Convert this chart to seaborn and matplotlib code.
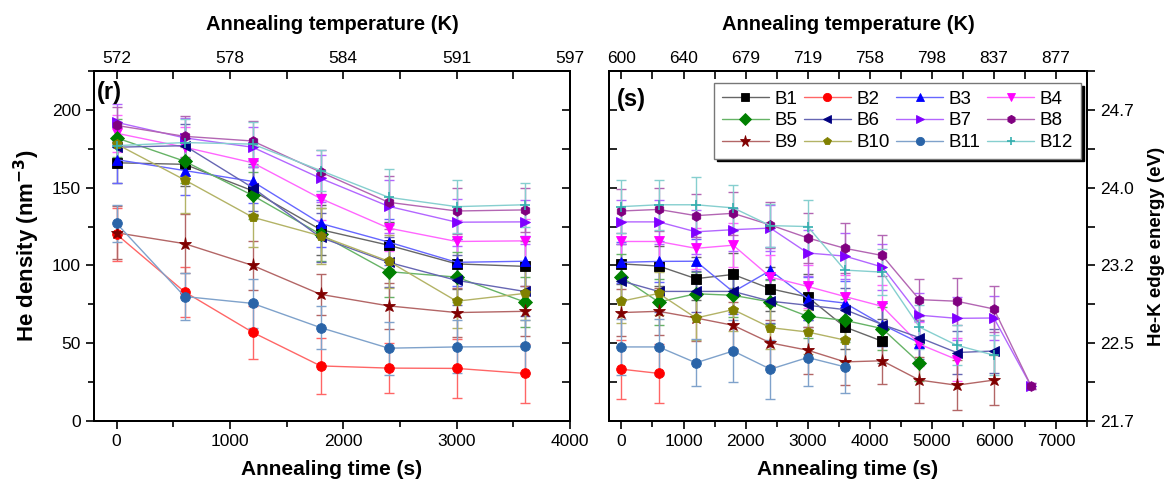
import numpy as np
import pandas as pd
import matplotlib
matplotlib.use("Agg")
from matplotlib import pyplot as plt
from matplotlib.ticker import MultipleLocator
from matplotlib.colors import to_rgb
import seaborn as sns

# ---- data ----
r_time = [0, 600, 1200, 1800, 2400, 3000, 3600]
s_time = [0, 600, 1200, 1800, 2400, 3000, 3600, 4200, 4800, 5400, 6000, 6600]

r_temp_ticks = [0, 1000, 2000, 3000, 4000]
r_temp_labels = ["572", "578", "584", "591", "597"]
s_temp_ticks = [0, 1000, 2000, 3000, 4000, 5000, 6000, 7000]
s_temp_labels = ["600", "640", "679", "719", "758", "798", "837", "877"]
energy_ticks = [0, 50, 100, 150, 200]
energy_labels = ["21.7", "22.5", "23.2", "24.0", "24.7"]

names = ["B1", "B2", "B3", "B4", "B5", "B6", "B7", "B8", "B9", "B10", "B11", "B12"]
colors = ["#000000", "#FF0000", "#0000FF", "#FF00FF", "#008000", "#000080",
          "#8000FF", "#800080", "#800000", "#808000", "#2A64A8", "#35AFAF"]
markers = ["s", "o", "^", "v", "D", "<", ">", "h", "*", "p", "o", "+"]

# panel (r): He density vs time
b1_r = [166, 165, 148, 123, 113, 101, 99.4]
b2_r = [120, 83, 57, 35.4, 34, 33.8, 30.6]
b3_r = [168, 161, 154, 127, 115, 102, 102.7]
b4_r = [185, 176, 166, 143, 124, 115.4, 115.8]
b5_r = [182, 167, 145, 120, 96, 92.5, 76.5]
b6_r = [176, 177, 150, 118, 102, 90.4, 83.3]
b7_r = [192, 182, 176, 156, 138, 127.8, 128]
b8_r = [190, 183, 180, 160, 140.6, 135, 135.7]
b9_r = [121, 114, 100, 81.4, 74, 69.7, 70.5]
b10_r = [178, 155, 131, 119, 102.7, 77, 82]
b11_r = [127, 80, 75.6, 60, 46.8, 47.6, 47.9]
b12_r = [177, 179, 178, 161, 143.8, 137.8, 139]

b1_r_err = [13, 14, 15, 16, 15, 16, 16]
b2_r_err = [17, 16, 17, 18, 16, 19, 19]
b3_r_err = [15, 16, 14, 15, 15, 15, 16]
b4_r_err = [12, 13, 13, 14, 15, 14, 14]
b5_r_err = [12, 14, 15, 17, 16, 16, 16]
b6_r_err = [13, 14, 15, 16, 16, 16, 16]
b7_r_err = [12, 13, 13, 15, 17, 15, 14]
b8_r_err = [12, 13, 13, 14, 17, 15, 14]
b9_r_err = [17, 19, 16, 13, 15, 16, 16]
b10_r_err = [14, 21, 19, 18, 17, 17, 17]
b11_r_err = [12, 15, 16, 14, 17, 17, 17]
b12_r_err = [14, 15, 14, 13, 18, 17, 14]

# panel (s): He density vs time (longer anneal)
b1_s = [101, 99.6, 91.5, 94.2, 85, 79.7, 60.4, 51.3]
b2_s = [33.3, 30.6]
b3_s = [102, 102.6, 102.7, 83, 96.8, 78.6, 75.8, 62, 50.2]
b4_s = [115.4, 115.4, 111, 113, 92.5, 86.5, 80, 73.7, 49.4, 39.5]
b5_s = [92.5, 76.5, 81.8, 80.8, 76.5, 67.3, 64.7, 59.4, 37.4]
b6_s = [90, 83.3, 83.3, 83.3, 77, 74.4, 71.6, 62, 53.6, 44, 45]
b7_s = [128, 128, 121.6, 123, 124, 108, 106, 99, 68, 66, 66.2, 22.4]
b8_s = [135, 136, 132, 133.5, 126, 117.7, 111, 106.4, 78, 77, 72, 22.4]
b9_s = [69.7, 70.5, 66.2, 61.5, 50.2, 45.5, 38, 38.7, 26.3, 23, 26.3]
b10_s = [77, 82, 66.2, 71.6, 60, 57.2, 52]
b11_s = [47.6, 47.6, 37.4, 45, 33.3, 40.8, 34.8]
b12_s = [137.8, 139, 139, 137, 125.6, 125, 97, 95.7, 60.4, 48.7, 42.3]

b1_s_err = [13, 13, 14, 14, 14, 15, 14, 14]
b2_s_err = [19, 19]
b3_s_err = [13, 13, 14, 14, 15, 14, 14, 14, 14]
b4_s_err = [13, 13, 13, 14, 14, 14, 14, 14, 14, 14]
b5_s_err = [15, 15, 14, 14, 14, 14, 14, 14, 12]
b6_s_err = [13, 13, 13, 13, 14, 14, 14, 14, 14, 14, 14]
b7_s_err = [14, 14, 14, 14, 15, 15, 15, 15, 14, 14, 14, 2]
b8_s_err = [14, 14, 14, 14, 15, 16, 16, 13, 13, 15, 15, 2]
b9_s_err = [15, 15, 15, 15, 15, 15, 15, 15, 15, 16, 16]
b10_s_err = [14, 14, 14, 14, 14, 14, 14]
b11_s_err = [18, 18, 15, 20, 19, 18, 17]
b12_s_err = [17, 16, 18, 15, 14, 17, 15, 15, 14, 13, 13]

r_vals = [b1_r, b2_r, b3_r, b4_r, b5_r, b6_r, b7_r, b8_r, b9_r, b10_r, b11_r, b12_r]
r_errs = [b1_r_err, b2_r_err, b3_r_err, b4_r_err, b5_r_err, b6_r_err,
          b7_r_err, b8_r_err, b9_r_err, b10_r_err, b11_r_err, b12_r_err]
s_vals = [b1_s, b2_s, b3_s, b4_s, b5_s, b6_s, b7_s, b8_s, b9_s, b10_s, b11_s, b12_s]
s_errs = [b1_s_err, b2_s_err, b3_s_err, b4_s_err, b5_s_err, b6_s_err,
          b7_s_err, b8_s_err, b9_s_err, b10_s_err, b11_s_err, b12_s_err]


def lighten(c, f=0.4):
    r, g, b = to_rgb(c)
    return (r + (1 - r) * f, g + (1 - g) * f, b + (1 - b) * f)


def draw_panel(ax, times, vals, errs):
    for name, col, mk, v, e in zip(names, colors, markers, vals, errs):
        df = pd.DataFrame({"time": times[:len(v)], "density": v, "err": e})
        light = lighten(col)
        ax.errorbar(df["time"], df["density"], yerr=df["err"], fmt="none",
                    ecolor=light, elinewidth=1, capsize=3.5, capthick=1, zorder=2)
        sns.lineplot(data=df, x="time", y="density", ax=ax, color=light,
                     marker=mk, markersize=7 if mk != "*" else 9.5,
                     markerfacecolor=col, markeredgecolor=col,
                     markeredgewidth=1.2 if mk == "+" else 0.6,
                     linewidth=1.0, label=name, errorbar=None, sort=False, zorder=3)


sns.set_style("ticks")
plt.rcParams["font.family"] = ["Liberation Sans", "DejaVu Sans"]
plt.rcParams["axes.linewidth"] = 1.4
for key in ["text.color", "axes.labelcolor", "xtick.color", "ytick.color", "axes.edgecolor"]:
    plt.rcParams[key] = "black"

fig = plt.figure(figsize=(11.73, 4.91), dpi=100)
ax_r = fig.add_axes([0.0801, 0.1426, 0.4058, 0.7128])
ax_s = fig.add_axes([0.5192, 0.1426, 0.4075, 0.7128])

draw_panel(ax_r, r_time, r_vals, r_errs)
draw_panel(ax_s, s_time, s_vals, s_errs)

tick_fs = 12.5
for ax, xmax in [(ax_r, 4000), (ax_s, 7500)]:
    ax.set_xlim(-200, xmax)
    ax.set_ylim(0, 225)
    ax.xaxis.set_major_locator(MultipleLocator(1000))
    ax.xaxis.set_minor_locator(MultipleLocator(500))
    ax.yaxis.set_major_locator(MultipleLocator(50))
    ax.yaxis.set_minor_locator(MultipleLocator(25))
    ax.tick_params(axis="x", which="major", direction="out", length=6, width=1.2, labelsize=tick_fs)
    ax.tick_params(axis="x", which="minor", direction="out", length=4, width=1.2)
    ax.set_xlabel("Annealing time (s)", fontsize=15, fontweight="bold", labelpad=8)
    if ax.get_legend() is not None:
        ax.get_legend().remove()

    # top axis: annealing temperature
    top = ax.twiny()
    top.set_xlim(ax.get_xlim())
    if ax is ax_r:
        top.set_xticks(r_temp_ticks)
        top.set_xticklabels(r_temp_labels)
    else:
        top.set_xticks(s_temp_ticks)
        top.set_xticklabels(s_temp_labels)
    top.xaxis.set_minor_locator(MultipleLocator(500))
    top.tick_params(axis="x", which="major", direction="in", length=6, width=1.2, labelsize=tick_fs)
    top.tick_params(axis="x", which="minor", direction="in", length=6, width=1.2)
    top.set_xlabel("Annealing temperature (K)", fontsize=14.5, fontweight="bold", labelpad=15)

# left panel y axis
ax_r.tick_params(axis="y", which="major", direction="out", length=6, width=1.2, labelsize=tick_fs)
ax_r.tick_params(axis="y", which="minor", direction="out", length=4, width=1.2)
ax_r.set_ylabel("He density (nm$^{\\mathbf{-3}}$)", fontsize=16, fontweight="bold", labelpad=7)
r_right = ax_r.twinx()
r_right.set_ylim(0, 225)
r_right.yaxis.set_major_locator(MultipleLocator(25))
r_right.tick_params(axis="y", which="major", direction="in", length=6, width=1.2, labelright=False)

# right panel y axes
ax_s.set_ylabel("")
ax_s.tick_params(axis="y", which="both", direction="in", length=6, width=1.2, labelleft=False)
s_right = ax_s.twinx()
s_right.set_ylim(0, 225)
s_right.set_yticks(energy_ticks)
s_right.set_yticklabels(energy_labels)
s_right.yaxis.set_minor_locator(MultipleLocator(25))
s_right.tick_params(axis="y", which="major", direction="out", length=6, width=1.2, labelsize=tick_fs)
s_right.tick_params(axis="y", which="minor", direction="out", length=6, width=1.2)
s_right.set_ylabel("He-K edge energy (eV)", fontsize=13.5, fontweight="bold", labelpad=10)

ax_r.text(0.006, 0.97, "(r)", transform=ax_r.transAxes, fontsize=17,
          fontweight="bold", va="top", ha="left")
ax_s.text(0.016, 0.95, "(s)", transform=ax_s.transAxes, fontsize=17,
          fontweight="bold", va="top", ha="left")

# legend, filled row by row
handles, labels = ax_s.get_legend_handles_labels()
order = [0, 4, 8, 1, 5, 9, 2, 6, 10, 3, 7, 11]
leg = s_right.legend([handles[i] for i in order], [labels[i] for i in order],
                     ncol=4, loc="upper right", bbox_to_anchor=(0.987, 0.966),
                     borderaxespad=0, fontsize=13.5, handlelength=2.5,
                     handletextpad=0.3, columnspacing=0.35, labelspacing=0.25,
                     borderpad=0.4, fancybox=False, framealpha=1, markerscale=0.85,
                     edgecolor="#777777", shadow={"color": "black", "alpha": 1})
leg.get_frame().set_linewidth(1.0)

fig.savefig("out.png", dpi=100)
